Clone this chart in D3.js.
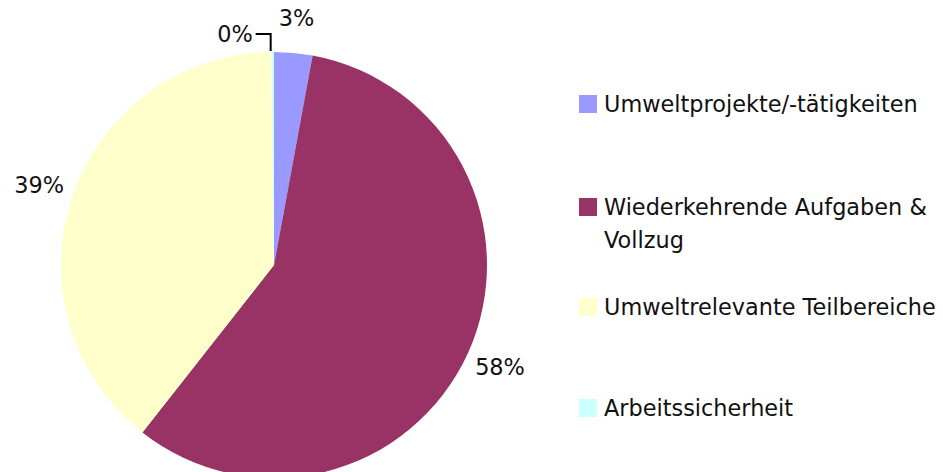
<!DOCTYPE html>
<html>
<head>
<meta charset="utf-8">
<script src="https://cdn.jsdelivr.net/npm/d3@7"></script>
<style>
  body { margin: 0; background: #fff; }
  text { font-family: "DejaVu Sans", sans-serif; fill: #111; }
</style>
</head>
<body>
<svg id="chart" width="943" height="472"></svg>
<script>
// data
var categories = ["Umweltprojekte/-tätigkeiten", "Wiederkehrende Aufgaben & Vollzug", "Umweltrelevante Teilbereiche", "Arbeitssicherheit"];
var values = [2.9, 57.7, 39.2, 0.2];
var pctLabels = ["3%", "58%", "39%", "0%"];
var colors = ["#9999FF", "#993366", "#FFFFCC", "#CCFFFF"];
var legendLines = [["Umweltprojekte/-tätigkeiten"], ["Wiederkehrende Aufgaben &", "Vollzug"], ["Umweltrelevante Teilbereiche"], ["Arbeitssicherheit"]];

var svg = d3.select("#chart");
var cx = 274, cy = 265, radius = 213, labelR = 248;
var fontSize = "22.4px";

var pie = d3.pie().sort(null).value(function (d) { return d; });
var arc = d3.arc().innerRadius(0).outerRadius(radius);
var labelArc = d3.arc().innerRadius(labelR).outerRadius(labelR);

var arcs = pie(values);

var g = svg.append("g").attr("transform", "translate(" + cx + "," + cy + ")");

g.selectAll("path.slice")
    .data(arcs)
    .enter().append("path")
    .attr("class", "slice")
    .attr("d", arc)
    .attr("fill", function (d, i) { return colors[i]; });

// percent labels (small slice gets moved out with a leader line)
arcs.forEach(function (d, i) {
    var c = labelArc.centroid(d);
    if (i === 3) {
        var mid = (d.startAngle + d.endAngle) / 2;
        var px = Math.sin(mid) * radius - 2, py = -Math.cos(mid) * radius;
        var ly = -231;
        g.append("path")
            .attr("d", "M" + px + "," + (py - 1) + "V" + ly + "H" + (px - 15))
            .attr("fill", "none")
            .attr("stroke", "#000")
            .attr("stroke-width", 2);
        g.append("text")
            .attr("x", px - 18)
            .attr("y", ly)
            .attr("dy", "0.35em")
            .attr("text-anchor", "end")
            .style("font-size", fontSize)
            .text(pctLabels[i]);
    } else {
        g.append("text")
            .attr("x", c[0])
            .attr("y", c[1])
            .attr("dy", "0.35em")
            .attr("text-anchor", "middle")
            .style("font-size", fontSize)
            .text(pctLabels[i]);
    }
});

// legend
var legendY = [104, 207, 307, 408];
var legend = svg.append("g").attr("transform", "translate(579,0)");
categories.forEach(function (c, i) {
    var item = legend.append("g").attr("transform", "translate(0," + legendY[i] + ")");
    item.append("rect")
        .attr("x", 0).attr("y", -9)
        .attr("width", 18).attr("height", 18)
        .attr("fill", colors[i]);
    var t = item.append("text")
        .attr("x", 25).attr("y", 0)
        .style("font-size", fontSize);
    legendLines[i].forEach(function (line, j) {
        t.append("tspan")
            .attr("x", 25)
            .attr("dy", j === 0 ? "0.35em" : "1.47em")
            .text(line);
    });
});
</script>
</body>
</html>
